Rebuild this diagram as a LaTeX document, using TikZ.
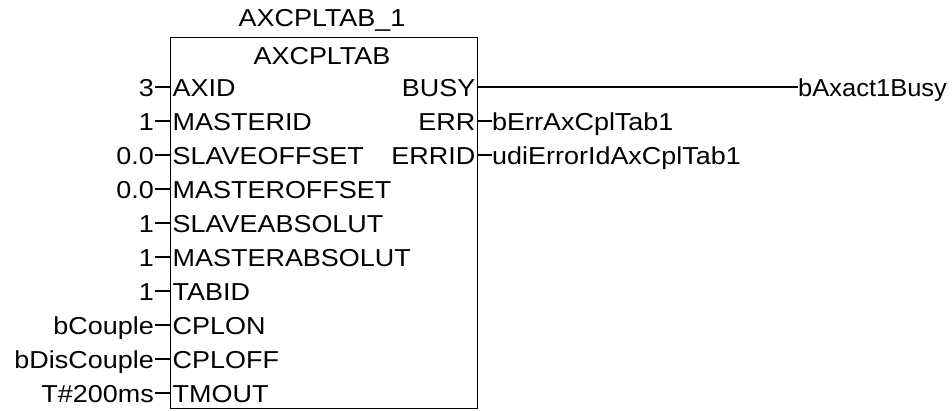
\documentclass[tikz,border=0pt]{standalone}
\usepackage{fontspec}
\setmainfont[FakeStretch=1.1]{Liberation Sans}
\newfontfamily\busyfont[FakeStretch=1.04]{Liberation Sans}
\tikzset{
  lbl/.style={inner sep=0pt, font=\fontsize{24.5}{25}\selectfont, text=black},
  wire/.style={line width=1.3pt, draw=black},
}
\begin{document}
\begin{tikzpicture}[x=1pt,y=-1pt]
\useasboundingbox (0,0) rectangle (952,410);
% function block
\node[wire, draw, rectangle, minimum width=307pt, minimum height=371pt, inner sep=0pt, anchor=north west] (fb) at (170,37) {};
\node[lbl, anchor=base] (inst) at (322,26) {AXCPLTAB\_1};
\node[lbl, anchor=base] (type) at (322,64) {AXCPLTAB};
% inputs
\foreach \i/\pin/\val in {0/AXID/3, 1/MASTERID/1, 2/SLAVEOFFSET/0.0, 3/MASTEROFFSET/0.0, 4/SLAVEABSOLUT/1, 5/MASTERABSOLUT/1, 6/TABID/1, 7/CPLON/bCouple, 8/CPLOFF/bDisCouple, 9/TMOUT/T\#200ms}{
  \pgfmathsetmacro{\yy}{87+34*\i}
  \coordinate (ip\i) at (170,\yy);
  \node[lbl, anchor=base west] (pin\i) at (172.5,\yy+9) {\pin};
  \node[lbl, anchor=base east] (val\i) at (154,\yy+9) {\val};
  \draw[wire] (val\i.east |- ip\i) ++(0.5,0) -- (ip\i);
}
% outputs
\coordinate (op0) at (477,87);
\coordinate (op1) at (477,121);
\coordinate (op2) at (477,155);
\node[lbl, anchor=base east] (busy) at (475.5,96) {BUSY};
\node[lbl, anchor=base east] (err) at (475.5,130) {ERR};
\node[lbl, anchor=base east] (errid) at (475.5,164) {ERRID};
\node[lbl, anchor=base west, font=\fontsize{24.5}{25}\busyfont] (o0) at (798,96) {bAxact1Busy};
\node[lbl, anchor=base west] (o1) at (492,130) {bErrAxCplTab1};
\node[lbl, anchor=base west] (o2) at (492,164) {udiErrorIdAxCplTab1};
\draw[wire] (op0) -- (o0.west |- op0);
\draw[wire] (op1) -- (o1.west |- op1);
\draw[wire] (op2) -- (o2.west |- op2);
\end{tikzpicture}
\end{document}
